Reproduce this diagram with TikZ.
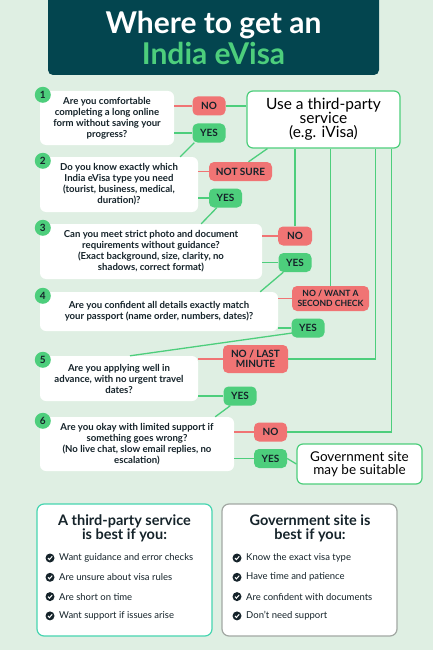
\documentclass[tikz,border=0pt]{standalone}
\usepackage{fontspec}
\setmainfont{Lato}
\usepackage{tikz}
\usetikzlibrary{positioning, calc}
\definecolor{bgMint}{HTML}{DFEFE3}
\definecolor{titleTeal}{HTML}{03454F}
\definecolor{yesGreen}{HTML}{4DCE7C}
\definecolor{noRed}{HTML}{F07474}
\definecolor{inkDark}{HTML}{15232A}
\definecolor{boxTeal}{HTML}{46D5B0}
\definecolor{boxGrey}{HTML}{A2A8A3}

\begin{document}
\begin{tikzpicture}[x=1pt, y=-1pt,
  qbox/.style={fill=white, rounded corners=6pt, align=center, inner sep=0pt, font=\bfseries\fontsize{9.6}{11}\selectfont, text=inkDark},
  num/.style={circle, fill=yesGreen, minimum size=16pt, inner sep=0pt, font=\bfseries\fontsize{10}{10}\selectfont, text=inkDark},
  badge/.style={rounded corners=5pt, inner sep=0pt, align=center, font=\bfseries\fontsize{10}{11}\selectfont, text=inkDark, minimum height=19pt},
  yesb/.style={badge, fill=yesGreen, minimum width=33pt},
  nob/.style={badge, fill=noRed},
  outcome/.style={draw=yesGreen, line width=1.2pt, fill=white, rounded corners=6pt, align=center, inner sep=0pt, text=black},
  sumbox/.style={line width=1.2pt, fill=white, rounded corners=7pt, minimum width=175pt, minimum height=132pt},
  sumhead/.style={align=center, font=\bfseries\fontsize{14.5}{14}\selectfont, text=inkDark},
  chk/.style={circle, fill=inkDark, minimum size=9pt, inner sep=0pt},
  item/.style={anchor=west, inner sep=0pt, font=\fontsize{9.5}{10}\selectfont, text=inkDark},
  gline/.style={yesGreen, line width=1.3pt},
  rline/.style={noRed, line width=1.3pt}
]
  \useasboundingbox (0,0) rectangle (433,650);
  \fill[bgMint] (0,0) rectangle (433,650);

  % title
  \node[fill=titleTeal, rounded corners=5pt, minimum width=331pt, minimum height=90pt, align=center,
        font=\bfseries\fontsize{30}{31}\selectfont] (title) at (213.5,30)
        {\vphantom{Ag}\\[-14pt]\textcolor{white}{Where to get an}\\\textcolor{yesGreen}{India eVisa}};

  % questions
  \node[qbox, minimum width=134pt, minimum height=54pt] (q1) at (107,118)
    {Are you comfortable\\completing a long online\\form without saving your\\progress?};
  \node[qbox, minimum width=158pt, minimum height=55pt] (q2) at (119,184.5)
    {Do you know exactly which\\India eVisa type you need\\(tourist, business, medical,\\duration)?};
  \node[qbox, minimum width=222pt, minimum height=55pt] (q3) at (151,251.5)
    {Can you meet strict photo and document\\requirements without guidance?\\(Exact background, size, clarity, no\\shadows, correct format)};
  \node[qbox, minimum width=238pt, minimum height=39pt] (q4) at (159,311.5)
    {Are you confident all details exactly match\\your passport (name order, numbers, dates)?};
  \node[qbox, minimum width=158pt, minimum height=45pt] (q5) at (119,378.5)
    {Are you applying well in\\advance, with no urgent travel\\dates?};
  \node[qbox, minimum width=194pt, minimum height=54pt] (q6) at (137,444)
    {Are you okay with limited support if\\something goes wrong?\\(No live chat, slow email replies, no\\escalation)};
  \foreach \q in {1,...,6}
    \node[num] at ($(q\q.north west)+(3,4)$) {\q};

  % outcomes
  \node[outcome, minimum width=153pt, minimum height=57pt, font=\fontsize{15.5}{14}\selectfont] (tp) at (323.5,119.5)
    {Use a third-party\\service\\(e.g. iVisa)};
  \node[outcome, minimum width=125pt, minimum height=40pt, font=\fontsize{13.5}{13.5}\selectfont] (gov) at (359.5,464)
    {Government site\\may be suitable};

  % answers
  \node[nob, minimum width=33pt] (no1) at (209,106) {NO};
  \node[yesb] (yes1) at (209,133) {YES};
  \node[nob, minimum width=63pt] (no2) at (240.5,171.5) {NOT SURE};
  \node[yesb] (yes2) at (225.5,198) {YES};
  \node[nob, minimum width=34pt] (no3) at (295,236) {NO};
  \node[yesb] (yes3) at (295,262.5) {YES};
  \node[nob, minimum width=77pt, minimum height=25pt, font=\bfseries\fontsize{8.6}{9.5}\selectfont] (no4) at (330.5,298.5) {NO / WANT A\\SECOND CHECK};
  \node[yesb] (yes4) at (308,328) {YES};
  \node[nob, minimum width=65pt, minimum height=28pt, font=\bfseries\fontsize{10}{10.5}\selectfont] (no5) at (255.5,359) {NO / LAST\\MINUTE};
  \node[yesb] (yes5) at (240,396) {YES};
  \node[nob, minimum width=33pt] (no6) at (270.5,432) {NO};
  \node[yesb] (yes6) at (270.5,458.5) {YES};

  % question to answer
  \foreach \q in {1,...,6}{
    \draw[rline] (no\q.west) -- (no\q.west -| q\q.east);
    \draw[gline] (yes\q.west) -- (yes\q.west -| q\q.east);
  }
  % yes to next question
  \draw[gline] ($(yes1.south west)+(2,0)$) -- ($(q2.north east)+(-18,0)$);
  \draw[gline] ($(yes2.south west)+(8,0)$) -- ($(q3.north east)+(-61,0)$);
  \draw[gline] ($(yes3.south west)+(5,0)$) -- ($(q4.north east)+(-18,0)$);
  \draw[gline] ($(yes4.west)+(1,5)$) -- ($(q5.north)+(11,0)$);
  \draw[gline] ($(yes5.south west)+(7,0)$) -- ($(q6.north east)+(-19,0)$);
  % no to third-party
  \draw[gline] (no1.east) -- (no1.east -| tp.west);
  \draw[gline] ($(tp.south west)+(21,0)$) -- ($(no2.north)+(8,0)$);
  \draw[gline] (no3.north |- tp.south) -- (no3.north);
  \draw[gline] (no4.north |- tp.south) -- (no4.north);
  \draw[gline] ($(tp.south west)+(129,0)$) |- (no5.east);
  \draw[gline] ($(tp.south west)+(145,0)$) |- (no6.east);
  \draw[gline] (yes6.east) -- (gov.west);

  % summary boxes
  \node[sumbox, draw=boxTeal] (tpbest) at (124.5,570) {};
  \node[sumbox, draw=boxGrey] (govbest) at (309.5,570) {};
  \node[sumhead] (tphead) at (124.5,528) {A third-party service\\is best if you:};
  \node[sumhead] (govhead) at (310,528) {Government site is\\best if you:};
  \foreach \t [count=\i] in {Want guidance and error checks, Are unsure about visa rules, Are short on time, Want support if issues arise}{
    \node[chk] (lc\i) at (50,{558+19.3*(\i-1)}) {};
    \draw[white, line width=1pt] ($(lc\i)+(-2,0)$) -- ++(1.4,1.6) -- ++(2.8,-3.2);
    \node[item] (li\i) at ($(lc\i)+(9,0)$) {\t};
  }
  \foreach \t [count=\i] in {Know the exact visa type, Have time and patience, Are confident with documents, Don't need support}{
    \node[chk] (rc\i) at (237,{558+19.3*(\i-1)}) {};
    \draw[white, line width=1pt] ($(rc\i)+(-2,0)$) -- ++(1.4,1.6) -- ++(2.8,-3.2);
    \node[item] (ri\i) at ($(rc\i)+(9,0)$) {\t};
  }
\end{tikzpicture}
\end{document}
